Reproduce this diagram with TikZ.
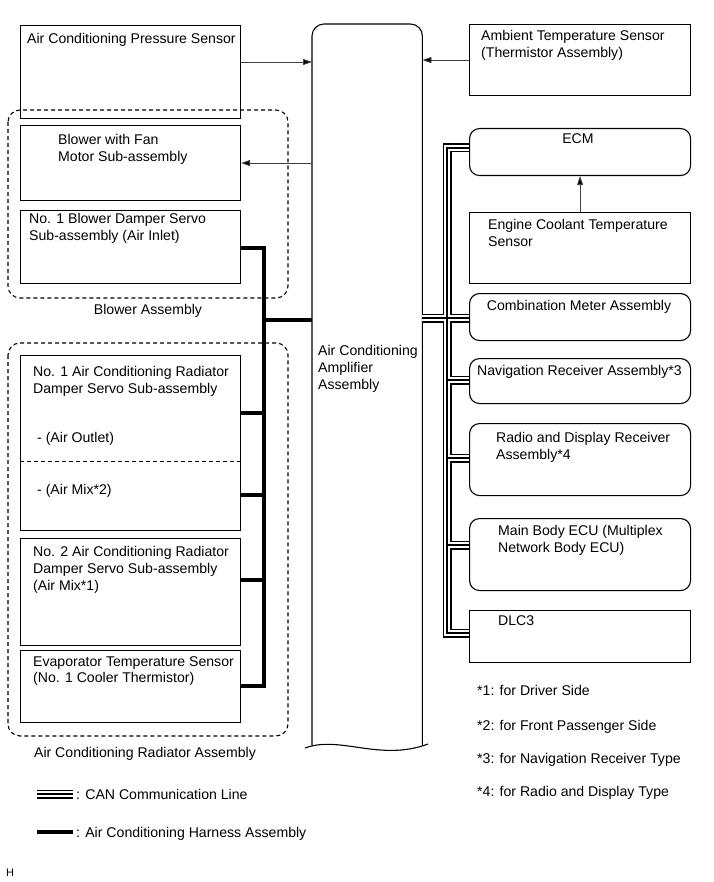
\documentclass[tikz,border=0pt]{standalone}
\usepackage{fontspec}
\setmainfont{Liberation Sans}
\usetikzlibrary{arrows.meta}
\begin{document}
\begin{tikzpicture}[x=1pt,y=-1pt,
  box/.style={draw, line width=1.1pt, inner sep=0pt, anchor=north west},
  rbox/.style={box, rounded corners=10pt},
  grp/.style={draw, line width=1.1pt, dash pattern=on 4pt off 3pt, rounded corners=12pt},
  txt/.style={inner sep=0pt, anchor=north west, align=left, font=\fontsize{14.1}{16.8}\selectfont},
  ctxt/.style={txt, anchor=north},
  arr/.style={draw=black!75, line width=0.8pt, -{Triangle[length=9pt,width=6pt,fill=black]}},
  harness/.style={line width=4.5pt, line join=miter},
  can/.style={line width=1.2pt, line join=miter,
    preaction={draw=white, line width=6pt, line join=miter,
      preaction={draw=black, line width=9pt, line join=miter}}}
]
\useasboundingbox (0,0) rectangle (713,882);

% group outlines
\draw[grp] (8,110) rectangle (288,298);
\draw[grp] (8,343) rectangle (288,736);

% boxes
\node[box, minimum width=220pt, minimum height=93pt] (pres) at (20,25) {};
\node[box, minimum width=221pt, minimum height=71pt] (amb) at (469,24) {};
\node[box, minimum width=220pt, minimum height=75pt] (blower) at (20,125) {};
\node[box, minimum width=220pt, minimum height=73pt] (damper1) at (20,210) {};
\node[box, minimum width=220pt, minimum height=175pt] (rad1) at (20,355) {};
\node[box, minimum width=220pt, minimum height=107pt] (rad2) at (20,538) {};
\node[box, minimum width=220pt, minimum height=72pt] (evap) at (20,650) {};
\node[rbox, minimum width=221pt, minimum height=47pt] (ecm) at (469,128) {};
\node[box, minimum width=221pt, minimum height=71pt] (ects) at (469,212) {};
\node[rbox, minimum width=221pt, minimum height=47pt] (combo) at (469,293) {};
\node[rbox, minimum width=221pt, minimum height=45pt] (nav) at (469,358) {};
\node[rbox, minimum width=221pt, minimum height=72pt] (radio) at (469,423) {};
\node[rbox, minimum width=221pt, minimum height=72pt] (mbecu) at (469,518) {};
\node[box, minimum width=221pt, minimum height=52pt] (dlc) at (469,610) {};

% amplifier (tall box with wavy bottom)
\node[inner sep=0pt, anchor=north west, minimum width=110pt, minimum height=721pt] (amp) at (312,24) {};
\draw[line width=1.1pt, rounded corners=12pt] (amp.south west) -- (amp.north west) -- (amp.north east) -- (amp.south east);
\coordinate (wl) at (305,748);
\coordinate (wr) at (428,744);
\draw[line width=1.1pt] (wl) .. controls (340,735) and (380,762) .. (wr);

% divider in rad1
\draw[line width=0.9pt, dash pattern=on 4pt off 3pt] (rad1.west |- 0,461) -- (rad1.east |- 0,461);

% arrows
\draw[arr] (pres.east |- 0,62) -- (amp.west |- 0,62);
\draw[arr] (amb.west) -- (amp.east |- amb.west);
\draw[arr] (amp.west |- blower.east) -- (blower.east);
\draw[arr] (ects.north) -- (ecm.south);

% harness
\draw[harness] (damper1.east |- 0,248) -- (264,248) -- (264,686) -- (evap.east |- 0,686)
  (264,320) -- (amp.west |- 0,320)
  (264,413) -- (rad1.east |- 0,413)
  (264,495) -- (rad1.east |- 0,495)
  (264,580) -- (rad2.east |- 0,580);

% CAN
\draw[can] (ecm.west |- 0,148) -- (447,148) -- (447,633) -- (dlc.west |- 0,633)
  (amp.east |- 0,318) -- (combo.west |- 0,318)
  (447,380) -- (nav.west |- 0,380)
  (447,458) -- (radio.west |- 0,458)
  (447,545) -- (mbecu.west |- 0,545);

% texts
\node[txt] (tpres) at (27,33) {Air Conditioning Pressure Sensor};
\node[txt] (tamb) at (481,30) {Ambient Temperature Sensor\\(Thermistor Assembly)};
\node[txt] (tblower) at (58,134) {Blower with Fan\\Motor Sub-assembly};
\node[txt] (tdamp) at (29,213) {No. 1 Blower Damper Servo\\Sub-assembly (Air Inlet)};
\node[ctxt] (tbg) at (148,304) {Blower Assembly};
\node[txt] (trad1) at (33,366) {No. 1 Air Conditioning Radiator\\Damper Servo Sub-assembly};
\node[txt] (tout) at (37,432) {- (Air Outlet)};
\node[txt] (tmix2) at (37,484) {- (Air Mix*2)};
\node[txt] (trad2) at (33,546) {No. 2 Air Conditioning Radiator\\Damper Servo Sub-assembly\\(Air Mix*1)};
\node[txt] (tevap) at (33,656) {Evaporator Temperature Sensor\\(No. 1 Cooler Thermistor)};
\node[ctxt] (trg) at (145,747) {Air Conditioning Radiator Assembly};
\node[txt] (tamp) at (318,345) {Air Conditioning\\Amplifier\\Assembly};
\node[ctxt] (tecm) at (578,133) {ECM};
\node[txt] (tects) at (488,219) {Engine Coolant Temperature\\Sensor};
\node[ctxt] (tcombo) at (579,300) {Combination Meter Assembly};
\node[txt] (tnav) at (477,365) {Navigation Receiver Assembly*3};
\node[txt] (tradio) at (496,432) {Radio and Display Receiver\\Assembly*4};
\node[txt] (tmb) at (498,525) {Main Body ECU (Multiplex\\Network Body ECU)};
\node[txt] (tdlc) at (498,615) {DLC3};
\node[txt] (f1) at (477,685) {*1: for Driver Side};
\node[txt] (f2) at (477,720) {*2: for Front Passenger Side};
\node[txt] (f3) at (477,753) {*3: for Navigation Receiver Type};
\node[txt] (f4) at (477,786) {*4: for Radio and Display Type};

% legend
\coordinate (lc1) at (37,794);
\coordinate (lc2) at (73,794);
\draw[can] (lc1) -- (lc2);
\node[txt] (tlc) at (76,789) {: CAN Communication Line};
\coordinate (lh1) at (37,832);
\coordinate (lh2) at (73,832);
\draw[harness] (lh1) -- (lh2);
\node[txt] (tlh) at (76,827) {: Air Conditioning Harness Assembly};

\node[txt, font=\fontsize{11}{13}\selectfont] (th) at (6,869) {H};
\end{tikzpicture}
\end{document}
